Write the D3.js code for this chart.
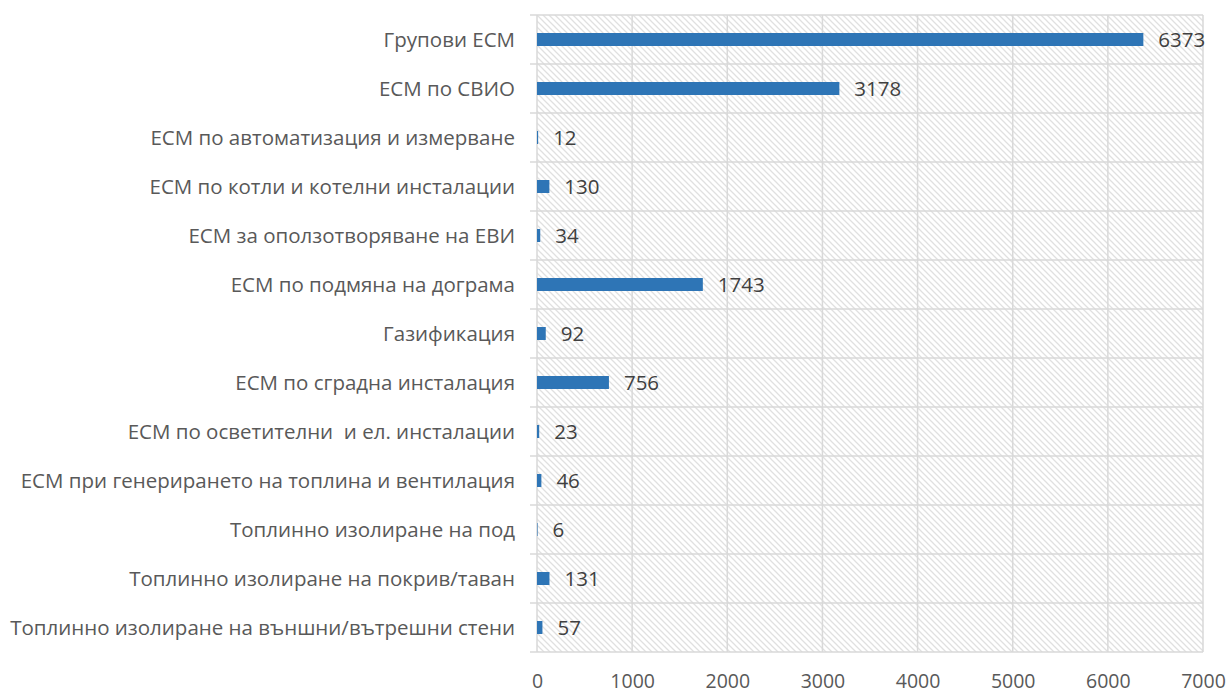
<!DOCTYPE html>
<html>
<head>
<meta charset="utf-8">
<script src="https://cdn.jsdelivr.net/npm/d3@7"></script>
<style>
  html, body { margin: 0; padding: 0; background: #fff; }
  svg { display: block; }
  text { font-family: "Open Sans", sans-serif; white-space: pre; }
</style>
</head>
<body>
<svg id="chart" width="1231" height="693"></svg>
<script>
// Energy-saving measures (ЕСМ) by type
const categories = [
  "Групови ЕСМ",
  "ЕСМ по СВИО",
  "ЕСМ по автоматизация и измерване",
  "ЕСМ по котли и котелни инсталации",
  "ЕСМ за оползотворяване на ЕВИ",
  "ЕСМ по подмяна на дограма",
  "Газификация",
  "ЕСМ по сградна инсталация",
  "ЕСМ по осветителни  и ел. инсталации",
  "ЕСМ при генерирането на топлина и вентилация",
  "Топлинно изолиране на под",
  "Топлинно изолиране на покрив/таван",
  "Топлинно изолиране на външни/вътрешни стени"
];
const values = [6373, 3178, 12, 130, 34, 1743, 92, 756, 23, 46, 6, 131, 57];
const xTicks = [0, 1000, 2000, 3000, 4000, 5000, 6000, 7000];

const svg = d3.select("#chart");
const margin = { top: 15, right: 28, bottom: 41, left: 537 };
const W = 1231, H = 693;
const innerW = W - margin.left - margin.right;
const innerH = H - margin.top - margin.bottom;

const x = d3.scaleLinear().domain([0, 7000]).range([0, innerW]);
const y = d3.scaleBand().domain(categories).range([0, innerH]).paddingInner(0.735).paddingOuter(0.3675);
const rows = d3.scaleBand().domain(categories).range([0, innerH]);

// Diagonal hatch for the plot background
const defs = svg.append("defs");
const pat = defs.append("pattern")
  .attr("id", "hatch")
  .attr("patternUnits", "userSpaceOnUse")
  .attr("width", 6).attr("height", 6);
pat.append("path")
  .attr("d", "M-1,-1 L7,7 M-1,5 L1,7 M5,-1 L7,1")
  .attr("stroke", "#e0e0e0")
  .attr("stroke-width", 1.3);

const g = svg.append("g").attr("transform", `translate(${margin.left},${margin.top})`);

g.append("rect")
  .attr("x", 0).attr("y", 0)
  .attr("width", innerW).attr("height", innerH)
  .attr("fill", "url(#hatch)");

// Vertical gridlines
g.append("g")
  .selectAll("line")
  .data(xTicks)
  .join("line")
  .attr("x1", d => x(d)).attr("x2", d => x(d))
  .attr("y1", 0).attr("y2", innerH)
  .attr("stroke", "#d9d9d9")
  .attr("stroke-width", 1.5);

// Horizontal row separators (extend left like tick marks)
const seps = categories.map(c => rows(c)).concat([innerH]);
g.append("g")
  .selectAll("line")
  .data(seps)
  .join("line")
  .attr("x1", -7).attr("x2", innerW)
  .attr("y1", d => d).attr("y2", d => d)
  .attr("stroke", "#d9d9d9")
  .attr("stroke-width", 1.5);

// Bars
g.append("g")
  .selectAll("rect")
  .data(values)
  .join("rect")
  .attr("x", 0)
  .attr("y", (d, i) => y(categories[i]))
  .attr("width", d => x(d))
  .attr("height", y.bandwidth())
  .attr("fill", "#2e75b6");

// Value labels
g.append("g")
  .selectAll("text")
  .data(values)
  .join("text")
  .attr("x", d => x(d) + 15)
  .attr("y", (d, i) => rows(categories[i]) + rows.bandwidth() / 2)
  .attr("dy", "0.36em")
  .attr("font-size", 20.5)
  .attr("fill", "#404040")
  .text(d => d);

// Category labels
g.append("g")
  .selectAll("text")
  .data(categories)
  .join("text")
  .attr("x", -22)
  .attr("y", d => rows(d) + rows.bandwidth() / 2)
  .attr("dy", "0.36em")
  .attr("text-anchor", "end")
  .attr("font-size", 20.5)
  .attr("fill", "#595959")
  .text(d => d);

// X axis tick labels
const xAxis = d3.axisBottom(x).tickValues(xTicks).tickSize(0).tickPadding(22).tickFormat(d3.format("d"));
const ax = g.append("g").attr("transform", `translate(0,${innerH})`).call(xAxis);
ax.select(".domain").remove();
ax.selectAll("text")
  .attr("font-size", 19.5)
  .attr("fill", "#595959")
  .attr("font-family", "Open Sans, sans-serif");
</script>
</body>
</html>
